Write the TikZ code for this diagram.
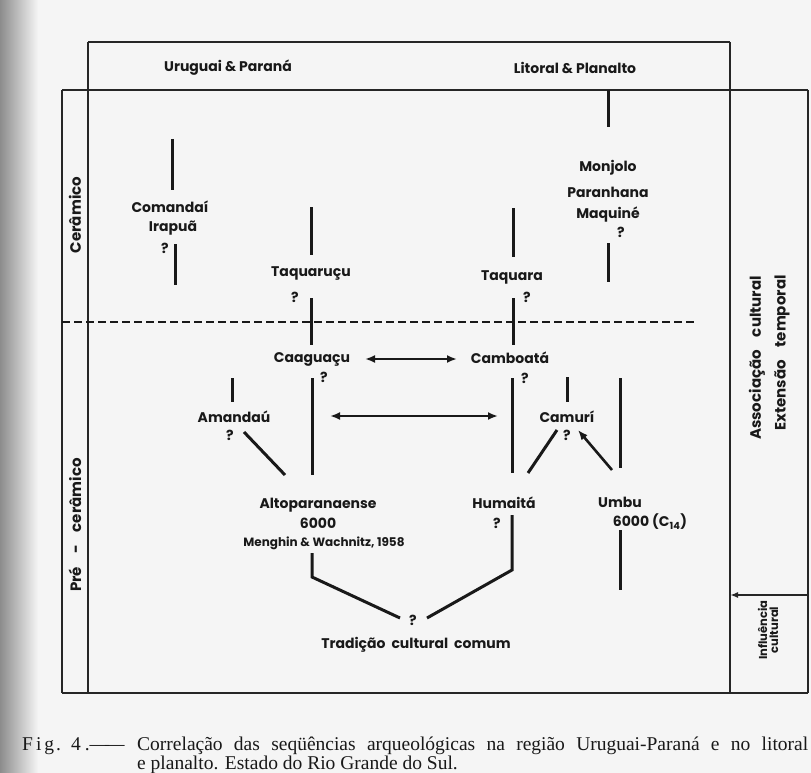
\documentclass[tikz,border=0pt]{standalone}
\usepackage{fontspec}
\setmainfont{Liberation Serif}
\newfontfamily\lab{Poppins}
\usetikzlibrary{arrows.meta}
\begin{document}
\begin{tikzpicture}[x=1pt,y=-1pt,
  frame/.style={line width=1.8pt, black!85},
  conn/.style={line width=3pt, black!90},
  lbl/.style={font=\lab\bfseries\fontsize{14}{16}\selectfont, inner sep=0pt, text=black!90},
  sidelbl/.style={font=\lab\bfseries\fontsize{15}{16}\selectfont, inner sep=0pt, text=black!90},
  smalllbl/.style={font=\lab\bfseries\fontsize{12}{12}\selectfont, inner sep=0pt, text=black!90},
  infllbl/.style={font=\lab\bfseries\fontsize{11.5}{11}\selectfont, inner sep=0pt, text=black!90},
  dbl/.style={line width=2.2pt, black!90, {Latex[length=10pt,width=8pt]}-{Latex[length=10pt,width=8pt]}},
  onearrow/.style={line width=2.6pt, black!90, -{Latex[length=10pt,width=8pt]}},
  captext/.style={font=\fontsize{19.5}{20}\selectfont, inner sep=0pt, anchor=base west, text=black!90}
]
\useasboundingbox (0,0) rectangle (811,773);
\fill[black!4] (0,0) rectangle (811,773);
\shade[left color=black!45, right color=black!4] (0,0) rectangle (38,773);

% frame
\draw[frame] (88,42) -- (730,42);
\draw[frame] (88,42) -- (88,693);
\draw[frame] (730,42) -- (730,693);
\draw[frame] (62,90) -- (808,90);
\draw[frame] (62,90) -- (62,693);
\draw[frame] (808,90) -- (808,693);
\draw[frame] (62,693) -- (808,693);
\draw[line width=2.2pt, black!90, dash pattern=on 8pt off 4pt] (62,322) -- (697,322);

% headers and side labels
\node[lbl] (hUP) at (228,68) {Uruguai \& Paraná};
\node[lbl] (hLP) at (575,68) {Litoral \& Planalto};
\node[sidelbl, rotate=90] (ceramico) at (75,215) {Cerâmico};
\node[sidelbl, rotate=90] (preceramico) at (75,525) {Pré\hspace{13pt}-\hspace{13pt}cerâmico};
\node[sidelbl, rotate=90] (assoc) at (757,358) {Associação\hspace{13pt}cultural};
\node[sidelbl, rotate=90] (ext) at (782,353) {Extensão\hspace{13pt}temporal};
\node[infllbl, rotate=90, align=center] (infl) at (768,630) {Influência\\cultural};
\coordinate (inflA) at (808,595);
\coordinate (inflB) at (730,595);
\draw[frame, -{Latex[length=8pt,width=6pt]}] (inflA) -- (inflB);

% Comandai column
\coordinate (c1a) at (172,139); \coordinate (c1b) at (172,190);
\draw[conn] (c1a) -- (c1b);
\node[lbl] (comandai) at (170,207) {Comandaí};
\node[lbl] (irapua) at (173,228) {Irapuã};
\node[lbl] (q1) at (165,248) {?};
\coordinate (c2a) at (175,244); \coordinate (c2b) at (175,285);
\draw[conn] (c2a) -- (c2b);

% Taquarucu column
\coordinate (t1a) at (311,207); \coordinate (t1b) at (311,255);
\draw[conn] (t1a) -- (t1b);
\node[lbl] (taquarucu) at (311,273) {Taquaruçu};
\node[lbl] (q2) at (295,297) {?};
\coordinate (t2a) at (311,298); \coordinate (t2b) at (311,345);
\draw[conn] (t2a) -- (t2b);
\node[lbl] (caaguacu) at (312,359) {Caaguaçu};
\node[lbl] (q3) at (324,377) {?};
\coordinate (t3a) at (312,378); \coordinate (t3b) at (312,475);
\draw[conn] (t3a) -- (t3b);

% Amandau
\coordinate (m1a) at (232,378); \coordinate (m1b) at (232,402);
\draw[conn] (m1a) -- (m1b);
\node[lbl] (amandau) at (234,417) {Amandaú};
\node[lbl] (q4) at (230,435) {?};
\coordinate (m2a) at (244,432); \coordinate (m2b) at (285,475);
\draw[conn] (m2a) -- (m2b);

% Altoparanaense
\node[lbl] (alto) at (318,505) {Altoparanaense};
\node[lbl] (alto6) at (318,523) {6000};
\node[smalllbl] (menghin) at (324,543) {Menghin \& Wachnitz, 1958};
\coordinate (v1) at (312,553); \coordinate (v2) at (312,577); \coordinate (v3) at (400,618);
\draw[conn] (v1) -- (v2) -- (v3);
\node[lbl] (q5) at (413,620) {?};
\coordinate (v4) at (427,618); \coordinate (v5) at (512,570); \coordinate (v6) at (512,515);
\draw[conn] (v4) -- (v5) -- (v6);
\node[lbl] (trad) at (416,645) {Tradição\ \ cultural\ \ comum};

% Taquara column
\coordinate (k1a) at (513,208); \coordinate (k1b) at (513,257);
\draw[conn] (k1a) -- (k1b);
\node[lbl] (taquara) at (512,277) {Taquara};
\node[lbl] (q6) at (527,297) {?};
\coordinate (k2a) at (513,298); \coordinate (k2b) at (513,345);
\draw[conn] (k2a) -- (k2b);
\node[lbl] (camboata) at (510,358) {Camboatá};
\node[lbl] (q7) at (525,378) {?};
\coordinate (k3a) at (512,378); \coordinate (k3b) at (512,473);
\draw[conn] (k3a) -- (k3b);
\node[lbl] (humaita) at (504,503) {Humaitá};
\node[lbl] (q8) at (497,523) {?};

% Monjolo column
\coordinate (p1a) at (608,90); \coordinate (p1b) at (608,127);
\draw[conn] (p1a) -- (p1b);
\node[lbl] (monjolo) at (608,168) {Monjolo};
\node[lbl] (paranhana) at (608,192) {Paranhana};
\node[lbl] (maquine) at (608,215) {Maquiné};
\node[lbl] (q9) at (621,232) {?};
\coordinate (p2a) at (608,243); \coordinate (p2b) at (608,282);
\draw[conn] (p2a) -- (p2b);

% Camuri / Umbu
\coordinate (r1a) at (567,377); \coordinate (r1b) at (567,402);
\draw[conn] (r1a) -- (r1b);
\node[lbl] (camuri) at (567,417) {Camurí};
\node[lbl] (q10) at (567,435) {?};
\coordinate (r2a) at (528,473); \coordinate (r2b) at (557,430);
\draw[conn] (r2a) -- (r2b);
\coordinate (r3a) at (612,470); \coordinate (r3b) at (578,430);
\draw[onearrow] (r3a) -- (r3b);
\coordinate (u1a) at (620,378); \coordinate (u1b) at (620,468);
\draw[conn] (u1a) -- (u1b);
\node[lbl] (umbu) at (620,502) {Umbu};
\node[lbl] (umbu6) at (650,522) {6000 (C\textsubscript{14})};
\coordinate (u2a) at (620,530); \coordinate (u2b) at (620,590);
\draw[conn] (u2a) -- (u2b);

% double arrows
\coordinate (d1a) at (365,359); \coordinate (d1b) at (457,359);
\draw[dbl] (d1a) -- (d1b);
\coordinate (d2a) at (330,416); \coordinate (d2b) at (498,416);
\draw[dbl] (d2a) -- (d2b);

% caption
\node[captext] (figlab) at (22,750) {F\kern3pt i\kern3pt g\kern2pt.\hspace{10pt}4\hspace{4pt}.\textemdash\kern-4pt\textemdash};
\node[captext] (cap1) at (137,750) {\makebox[671pt][s]{Correlação das seqüências arqueológicas na região Uruguai-Paraná e no litoral}};
\node[captext] (cap2) at (137,769) {e planalto. Estado do Rio Grande do Sul.};
\end{tikzpicture}
\end{document}
